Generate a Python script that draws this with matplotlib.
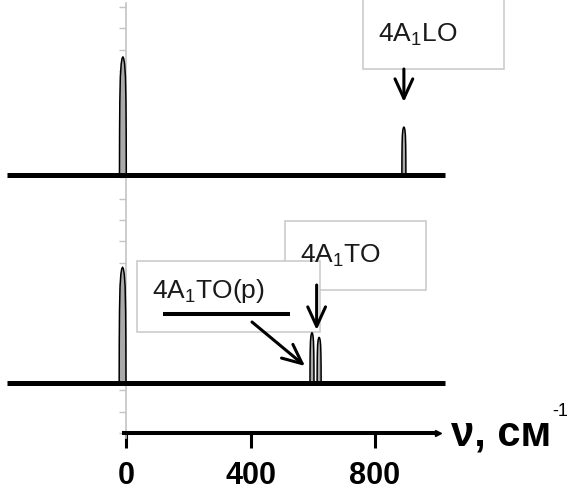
""" Raman spectra sketch: 4A1 LO / TO lines, two stacked traces on a common wavenumber axis. """

import numpy as np
import matplotlib.pyplot as plt
from matplotlib.patches import Rectangle

plt.rcParams['font.family'] = ['Liberation Sans', 'DejaVu Sans']
plt.rcParams['mathtext.default'] = 'regular'

# --- data (wavenumber in cm-1, intensity in relative units) ---
top_pos = [-11, 894]
top_height = [1.01, 0.41]
top_halfwidth = [11, 6.5]

bottom_pos = [-12, 598, 621]
bottom_height = [0.99, 0.43, 0.39]
bottom_halfwidth = [11, 6.5, 6.5]

# normalised line shape of one peak (offset in half-widths, relative height)
shape_u = [-1.0, -0.97, -0.9, -0.75, -0.5, -0.25, 0.0, 0.25, 0.5, 0.75, 0.9, 0.97, 1.0]
shape_h = [0.0, 0.35, 0.62, 0.83, 0.94, 0.985, 1.0, 0.985, 0.94, 0.83, 0.62, 0.35, 0.0]

x_ticks = [0, 400, 800]
x_label = "ν, см"
x_label_power = "-1"
label_lo = "4A$_1$LO"
label_to = "4A$_1$TO"
label_top = "4A$_1$TO(p)"

# --- layout helpers (figure is laid out in pixels) ---
W, H = 572, 492
X0_PX = 126.3
PX_PER_CM = 0.3105
INT_SCALE = 117.0


def px_x(p):
    return (p - X0_PX) / PX_PER_CM


def px_y(p):
    return H - p


def draw_trace(ax, base, pos, height, halfwidth):
    for p, h, w in zip(pos, height, halfwidth):
        xs = p + w * np.array(shape_u)
        ys = base + h * INT_SCALE * np.array(shape_h)
        ax.fill(xs, ys, color='#a9a9a9', zorder=3, lw=0)
        ax.plot(xs, ys, color='black', lw=1.1, zorder=4)
    ax.plot([px_x(7), px_x(445)], [base, base], color='black', lw=3.6,
            solid_capstyle='butt', zorder=5)


def arrow(ax, start, end):
    ax.annotate('', xy=end, xytext=start,
                arrowprops=dict(arrowstyle='->,head_length=0.7,head_width=0.32',
                                mutation_scale=20, lw=2.2, color='black',
                                shrinkA=0, shrinkB=0), zorder=7)


fig = plt.figure(figsize=(W / 100, H / 100), dpi=100)
ax = fig.add_axes([0, 0, 1, 1])
ax.set_xlim(px_x(0), px_x(W))
ax.set_ylim(0, H)
ax.patch.set_visible(False)
ax.spines['top'].set_visible(False)
ax.spines['right'].set_visible(False)

top_base = px_y(175)
bottom_base = px_y(383)
axis_y = px_y(433)

# grey intensity axis
ax.spines['left'].set_position(('data', 0))
ax.spines['left'].set_bounds(px_y(438), px_y(3))
ax.spines['left'].set_color('#c4c4c4')
ax.spines['left'].set_linewidth(1.2)
ax.set_yticks(np.linspace(axis_y, axis_y + 20 * 21.3, 21))
ax.tick_params(axis='y', direction='out', length=5, width=1.0,
               color='#c4c4c4', labelleft=False)

# wavenumber axis
ax.spines['bottom'].set_position(('data', axis_y))
ax.spines['bottom'].set_bounds(px_x(124.5), px_x(436))
ax.spines['bottom'].set_linewidth(2.9)
ax.set_xticks(x_ticks, [str(t) for t in x_ticks], fontsize=22, fontweight='bold')
ax.tick_params(axis='x', direction='out', length=11, width=2.2, pad=9)
ax.plot(px_x(438), axis_y, marker='>', ms=5, color='black', clip_on=False)
ax.text(px_x(451), px_y(445), x_label, fontsize=30, fontweight='bold', va='baseline')
ax.text(px_x(552), px_y(416), x_label_power, fontsize=13, va='baseline')

draw_trace(ax, top_base, top_pos, top_height, top_halfwidth)
draw_trace(ax, bottom_base, bottom_pos, bottom_height, bottom_halfwidth)

# label boxes
box_kw = dict(facecolor='white', edgecolor='#c8c8c8', lw=1.1)
ax.add_patch(Rectangle((px_x(363), px_y(69)), (504 - 363) / PX_PER_CM, 74, zorder=2.0, **box_kw))
ax.add_patch(Rectangle((px_x(285), px_y(290)), (426 - 285) / PX_PER_CM, 69, zorder=2.1, **box_kw))
ax.add_patch(Rectangle((px_x(137), px_y(332)), (320 - 137) / PX_PER_CM, 71, zorder=2.2, **box_kw))

txt_kw = dict(fontsize=19, color='#1a1a1a', va='baseline', zorder=6)
ax.text(px_x(378), px_y(42), label_lo, **txt_kw)
ax.text(px_x(300), px_y(263), label_to, **txt_kw)
ax.text(px_x(152), px_y(298), label_top, **txt_kw)
ax.plot([px_x(163), px_x(290)], [px_y(314)] * 2, color='black', lw=2.9,
        solid_capstyle='butt', zorder=6)

arrow(ax, (top_pos[1], px_y(69)), (top_pos[1], px_y(102)))
arrow(ax, (bottom_pos[2] - 8, px_y(285)), (bottom_pos[2] - 8, px_y(330)))
arrow(ax, (px_x(252), px_y(322)), (px_x(305), px_y(366)))

fig.savefig('out.png', dpi=100)
